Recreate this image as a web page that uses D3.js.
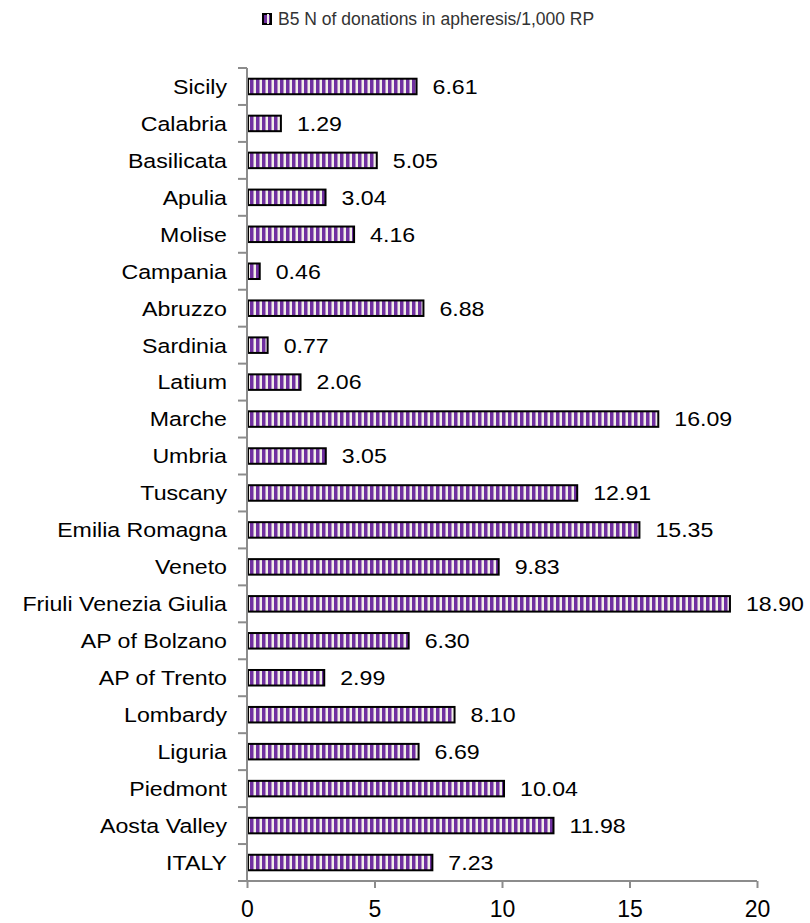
<!DOCTYPE html>
<html lang="en">
<head>
  <meta charset="utf-8">
    <title>B5 donations in apheresis</title>
    <script type="text/javascript" src="https://d3js.org/d3.v7.min.js"></script>
    <style type="text/css">
      body { margin: 0; background: #fff; }
      text { font-family: "Liberation Sans", Arial, sans-serif; }
    </style>
</head>
<body>
  <script type="text/javascript">

        var regions = ["Sicily", "Calabria", "Basilicata", "Apulia", "Molise", "Campania",
            "Abruzzo", "Sardinia", "Latium", "Marche", "Umbria", "Tuscany", "Emilia Romagna",
            "Veneto", "Friuli Venezia Giulia", "AP of Bolzano", "AP of Trento", "Lombardy",
            "Liguria", "Piedmont", "Aosta Valley", "ITALY"];
        var values = [6.61, 1.29, 5.05, 3.04, 4.16, 0.46, 6.88, 0.77, 2.06, 16.09, 3.05,
            12.91, 15.35, 9.83, 18.90, 6.30, 2.99, 8.10, 6.69, 10.04, 11.98, 7.23];
        var xTicks = [0, 5, 10, 15, 20];
        var seriesName = "B5 N of donations in apheresis/1,000 RP";

        var width = 810, height = 923;
        var plotLeft = 247, plotRight = 757, plotTop = 68, plotBottom = 881;
        var stretch = 1.13; // the original text is a little wider than Arial

        var svg = d3.select("body")
            .append("svg")
            .attr("width", width)
            .attr("height", height);

        // striped fill
        var pat = svg.append("defs").append("pattern")
            .attr("id", "stripes")
            .attr("patternUnits", "userSpaceOnUse")
            .attr("x", plotLeft + 3)
            .attr("width", 6)
            .attr("height", 10);
        pat.append("rect").attr("width", 6).attr("height", 10).attr("fill", "#f2eee8");
        pat.append("rect").attr("width", 3.5).attr("height", 10).attr("fill", "#7030a0");

        var x = d3.scaleLinear().domain([0, 20]).range([plotLeft, plotRight]);
        var y = d3.scaleBand().domain(regions).range([plotTop, plotBottom]).paddingInner(0.58).paddingOuter(0.29);

        // bars
        svg.selectAll(".bar")
            .data(values)
            .enter()
            .append("rect")
            .attr("class", "bar")
            .attr("x", x(0) + 1)
            .attr("y", function(d, i) { return y(regions[i]); })
            .attr("width", function(d) { return x(d) - x(0); })
            .attr("height", y.bandwidth())
            .attr("fill", "url(#stripes)")
            .attr("stroke", "#000")
            .attr("stroke-width", 2);

        // value labels
        svg.selectAll(".val")
            .data(values)
            .enter()
            .append("text")
            .attr("class", "val")
            .attr("transform", function(d, i) {
                return "translate(" + (x(d) + 17) + "," + (y(regions[i]) + y.bandwidth() / 2) + ") scale(" + stretch + ",1)";
            })
            .attr("dy", "0.36em")
            .attr("font-size", 20.5)
            .attr("fill", "#000")
            .text(function(d) { return d.toFixed(2); });

        // x axis
        var xAxis = svg.append("g")
            .attr("transform", "translate(0," + plotBottom + ")")
            .call(d3.axisBottom(x).tickValues(xTicks).tickSize(7));
        xAxis.selectAll("line, path").attr("stroke", "#8c8c8c").attr("stroke-width", 2);
        xAxis.select(".domain").attr("d", "M" + plotLeft + ",0H" + plotRight);
        xAxis.selectAll("text")
            .attr("y", 36).attr("dy", 0)
            .attr("font-size", 23).attr("fill", "#000")
            .attr("font-family", "Liberation Sans, Arial, sans-serif");

        // y axis: ticks at category boundaries
        var step = (plotBottom - plotTop) / regions.length;
        var yAxis = svg.append("g");
        yAxis.append("line")
            .attr("x1", plotLeft).attr("x2", plotLeft)
            .attr("y1", plotTop).attr("y2", plotBottom)
            .attr("stroke", "#8c8c8c").attr("stroke-width", 2);
        yAxis.selectAll(".yt")
            .data(d3.range(regions.length + 1))
            .enter()
            .append("line")
            .attr("x1", plotLeft - 9).attr("x2", plotLeft)
            .attr("y1", function(i) { return plotTop + i * step; })
            .attr("y2", function(i) { return plotTop + i * step; })
            .attr("stroke", "#8c8c8c").attr("stroke-width", 2);

        svg.selectAll(".cat")
            .data(regions)
            .enter()
            .append("text")
            .attr("class", "cat")
            .attr("transform", function(d) {
                return "translate(227," + (y(d) + y.bandwidth() / 2) + ") scale(" + stretch + ",1)";
            })
            .attr("dy", "0.36em")
            .attr("text-anchor", "end")
            .attr("font-size", 20.5)
            .attr("fill", "#000")
            .text(function(d) { return d; });

        // legend
        var lg = svg.append("g").attr("transform", "translate(263,14)");
        lg.append("rect").attr("width", 8).attr("height", 10)
            .attr("fill", "#7030a0").attr("stroke", "#000").attr("stroke-width", 2);
        lg.append("rect").attr("x", 4).attr("y", 0).attr("width", 2).attr("height", 10).attr("fill", "#f2eee8");
        lg.append("text").attr("x", 15).attr("y", 11)
            .attr("font-size", 17.5).attr("fill", "#333")
            .text(seriesName);

  </script>
</body>
</html>
